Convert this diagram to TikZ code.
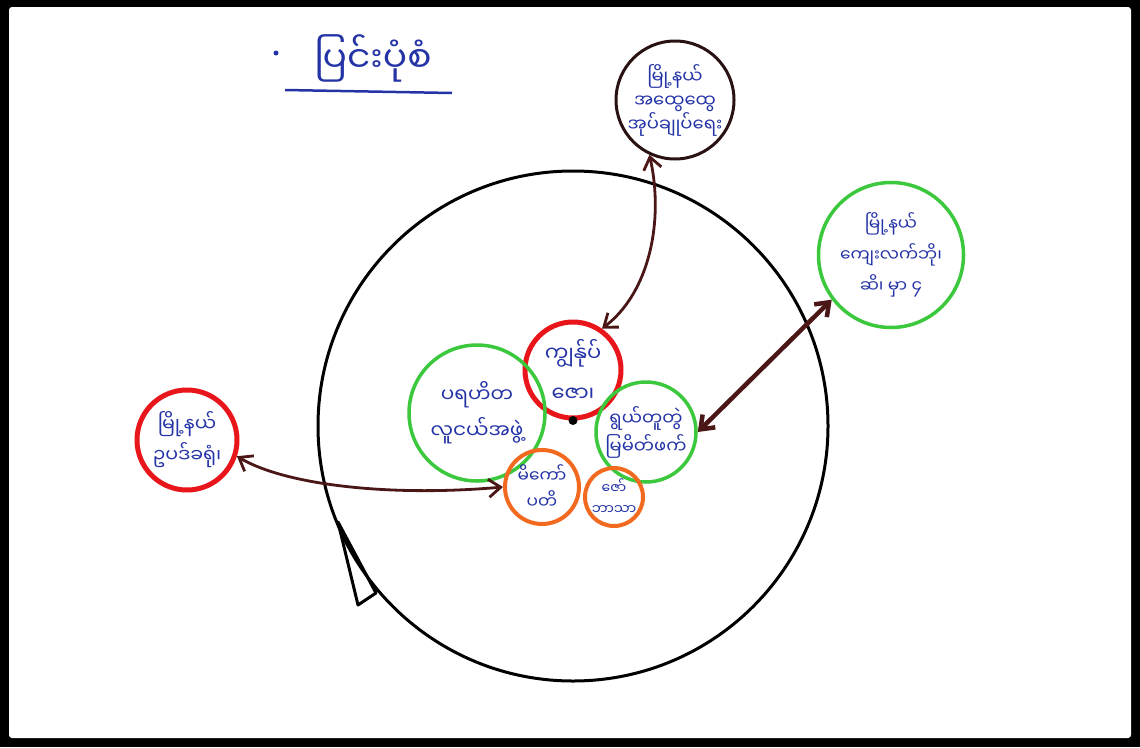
\documentclass[tikz,border=0pt]{standalone}
\usepackage{fontspec}
\newfontfamily\mmfont[Script=Myanmar]{Noto Sans Myanmar UI}
\usepackage{tikz}
\usetikzlibrary{arrows.meta}

\definecolor{inkblue}{HTML}{2433A6}
\definecolor{penred}{HTML}{E8161B}
\definecolor{pengreen}{HTML}{3CC83C}
\definecolor{penorange}{HTML}{F26A1F}
\definecolor{penbrown}{HTML}{4A1616}
\definecolor{pendark}{HTML}{2A1212}

\begin{document}
\begin{tikzpicture}[x=1pt, y=-1pt]
\tikzset{
    bubble/.style={circle, inner sep=-40pt, text=inkblue, align=center, font=\mmfont\fontsize{18}{26}\selectfont},
    redbub/.style={bubble, draw=penred, line width=5pt},
    greenbub/.style={bubble, draw=pengreen, line width=3.5pt},
    orangebub/.style={bubble, draw=penorange, line width=4pt},
    darkbub/.style={bubble, draw=pendark, line width=3pt},
    myarrow/.style={<->, >={Straight Barb[length=12pt,width=18pt]}, draw=penbrown, line width=2.8pt}
}
\useasboundingbox (0,0) rectangle (1140,747);
\fill[black] (0,0) rectangle (1140,747);
\fill[white, rounded corners=3pt] (9,7) rectangle (1131,738);

% title
\node[text=inkblue, font=\mmfont\fontsize{36}{40}\selectfont] (title) at (373,58) {ပြင်းပုံစံ};
\fill[inkblue] (276,53) circle (2.5);
\draw[inkblue, line width=2.5pt] (285,90) -- (452,93);

% big loop
\node[circle, draw=black, line width=3pt, minimum size=510pt] (loop) at (573,426) {};
\draw[black, line width=3pt, line join=round] (338,522) -- (358,605) -- (376,593) -- cycle;

% outer circles
\node[darkbub, minimum size=118pt, font=\mmfont\fontsize{18}{24}\selectfont] (admin) at (675,100) {မြို့နယ်\\အထွေထွေ\\အုပ်ချုပ်ရေး};
\node[greenbub, minimum size=145pt, font=\mmfont\fontsize{17}{31}\selectfont] (village) at (891,255) {မြို့နယ်\\ကျေးလက်ဘို၊\\ဆိ၊ မှာ ၄};
\node[redbub, minimum size=100pt, font=\mmfont\fontsize{19}{31}\selectfont] (dept) at (187,440) {မြို့နယ်\\ဥပဒ်ခရုံ၊};

% inner circles
\node[redbub, minimum size=96pt, font=\mmfont\fontsize{21}{40}\selectfont] (self) at (573,370) {ကျွန်ုပ်\\ဇော၊};
\node[greenbub, minimum size=136pt, font=\mmfont\fontsize{20}{36}\selectfont] (youth) at (477,413) {ပရဟိတ\\လူငယ်အဖွဲ့};
\node[greenbub, minimum size=100pt, font=\mmfont\fontsize{18}{28}\selectfont] (peers) at (646,432) {ရွယ်တူတွဲ\\မြမိတ်ဖက်};
\node[orangebub, minimum size=74pt, font=\mmfont\fontsize{17}{26}\selectfont] (kinA) at (542,487) {မိကော်\\ပတိ};
\node[orangebub, minimum size=58pt, font=\mmfont\fontsize{14}{21}\selectfont] (kinB) at (614,497) {ဇော်\\ဘာသာ};
\fill[black] (self.south) circle (4.5);

% links
\draw[myarrow] (admin.245) .. controls (664,220) and (650,292) .. (self.55);
\draw[myarrow, line width=4.5pt] (village.217) -- (peers.east);
\draw[myarrow] (dept.-18) .. controls (285,485) and (390,497) .. (kinA.west);

\end{tikzpicture}
\end{document}
